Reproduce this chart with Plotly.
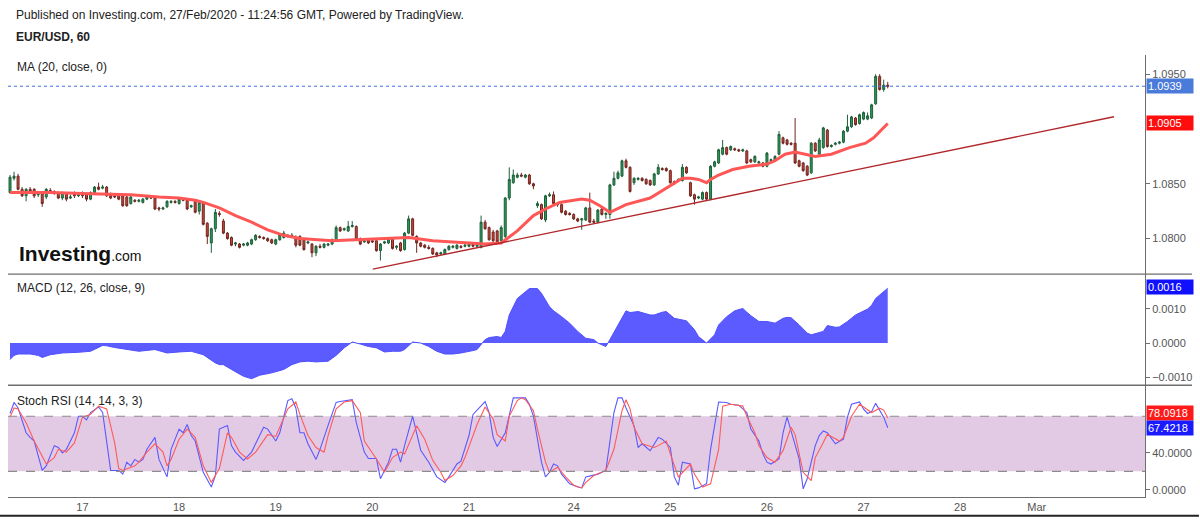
import plotly.graph_objects as go

# ---------------- data (hourly bars, index 0..218) ----------------
opens = [
    1.0842, 1.0855, 1.0857, 1.0845, 1.0839, 1.0845, 1.0845, 1.0840, 1.0841, 1.0838,
    1.0844, 1.0843, 1.0842, 1.0837, 1.0841, 1.0837, 1.0842, 1.0839, 1.0842, 1.0841,
    1.0836, 1.0842, 1.0847, 1.0846, 1.0847, 1.0840, 1.0839, 1.0840, 1.0839, 1.0838,
    1.0832, 1.0835, 1.0834, 1.0833, 1.0836, 1.0838, 1.0837, 1.0828, 1.0827, 1.0829,
    1.0833, 1.0834, 1.0832, 1.0836, 1.0835, 1.0829, 1.0834, 1.0825, 1.0833, 1.0814,
    1.0796, 1.0809, 1.0823, 1.0816, 1.0805, 1.0801, 1.0795, 1.0795, 1.0794, 1.0794,
    1.0795, 1.0799, 1.0802, 1.0801, 1.0800, 1.0799, 1.0795, 1.0799, 1.0801, 1.0803,
    1.0802, 1.0801, 1.0802, 1.0799, 1.0796, 1.0795, 1.0787, 1.0793, 1.0792, 1.0794,
    1.0795, 1.0798, 1.0810, 1.0808, 1.0807, 1.0811, 1.0811, 1.0800, 1.0797, 1.0799,
    1.0798, 1.0798, 1.0789, 1.0796, 1.0796, 1.0800, 1.0792, 1.0796, 1.0790, 1.0805,
    1.0818, 1.0802, 1.0796, 1.0794, 1.0792, 1.0791, 1.0787, 1.0786, 1.0786, 1.0790,
    1.0792, 1.0791, 1.0793, 1.0793, 1.0793, 1.0795, 1.0793, 1.0792, 1.0815, 1.0810,
    1.0806, 1.0807, 1.0798, 1.0802, 1.0837, 1.0851, 1.0856, 1.0858, 1.0856, 1.0858,
    1.0850, 1.0830, 1.0831, 1.0817, 1.0839, 1.0840, 1.0832, 1.0831, 1.0825, 1.0823,
    1.0822, 1.0818, 1.0817, 1.0817, 1.0828, 1.0816, 1.0815, 1.0827, 1.0822, 1.0822,
    1.0849, 1.0855, 1.0857, 1.0871, 1.0865, 1.0851, 1.0854, 1.0855, 1.0854, 1.0853,
    1.0849, 1.0859, 1.0864, 1.0864, 1.0862, 1.0852, 1.0853, 1.0853, 1.0865, 1.0851,
    1.0840, 1.0837, 1.0836, 1.0842, 1.0836, 1.0866, 1.0869, 1.0877, 1.0883, 1.0881,
    1.0882, 1.0881, 1.0880, 1.0880, 1.0872, 1.0870, 1.0869, 1.0869, 1.0866, 1.0871,
    1.0871, 1.0877, 1.0892, 1.0890, 1.0887, 1.0887, 1.0871, 1.0869, 1.0866, 1.0860,
    1.0887, 1.0877, 1.0883, 1.0899, 1.0884, 1.0886, 1.0887, 1.0888, 1.0898, 1.0902,
    1.0910, 1.0905, 1.0909, 1.0909, 1.0910, 1.0923, 1.0948, 1.0936, 1.0940,
]
highs = [
    1.0858, 1.0861, 1.0859, 1.0847, 1.0846, 1.0847, 1.0846, 1.0843, 1.0842, 1.0846,
    1.0846, 1.0844, 1.0843, 1.0843, 1.0842, 1.0840, 1.0843, 1.0842, 1.0843, 1.0842,
    1.0843, 1.0848, 1.0851, 1.0849, 1.0848, 1.0842, 1.0840, 1.0841, 1.0840, 1.0839,
    1.0839, 1.0836, 1.0836, 1.0837, 1.0839, 1.0839, 1.0838, 1.0829, 1.0829, 1.0835,
    1.0835, 1.0835, 1.0837, 1.0837, 1.0836, 1.0831, 1.0836, 1.0834, 1.0834, 1.0815,
    1.0810, 1.0827, 1.0825, 1.0818, 1.0806, 1.0802, 1.0797, 1.0796, 1.0796, 1.0797,
    1.0800, 1.0804, 1.0803, 1.0802, 1.0801, 1.0800, 1.0800, 1.0805, 1.0807, 1.0804,
    1.0805, 1.0803, 1.0803, 1.0800, 1.0798, 1.0796, 1.0794, 1.0795, 1.0796, 1.0796,
    1.0800, 1.0812, 1.0811, 1.0810, 1.0816, 1.0816, 1.0812, 1.0801, 1.0799, 1.0800,
    1.0800, 1.0799, 1.0796, 1.0798, 1.0801, 1.0801, 1.0794, 1.0797, 1.0806, 1.0821,
    1.0819, 1.0803, 1.0797, 1.0795, 1.0794, 1.0792, 1.0788, 1.0788, 1.0791, 1.0794,
    1.0794, 1.0795, 1.0794, 1.0795, 1.0797, 1.0796, 1.0795, 1.0821, 1.0817, 1.0811,
    1.0808, 1.0808, 1.0812, 1.0838, 1.0865, 1.0863, 1.0860, 1.0860, 1.0859, 1.0859,
    1.0851, 1.0834, 1.0832, 1.0840, 1.0842, 1.0843, 1.0833, 1.0832, 1.0826, 1.0824,
    1.0823, 1.0819, 1.0819, 1.0829, 1.0842, 1.0818, 1.0827, 1.0828, 1.0824, 1.0850,
    1.0861, 1.0862, 1.0872, 1.0873, 1.0866, 1.0856, 1.0856, 1.0856, 1.0855, 1.0854,
    1.0860, 1.0868, 1.0865, 1.0865, 1.0863, 1.0853, 1.0855, 1.0868, 1.0866, 1.0852,
    1.0841, 1.0839, 1.0843, 1.0843, 1.0867, 1.0871, 1.0882, 1.0890, 1.0884, 1.0885,
    1.0883, 1.0882, 1.0882, 1.0881, 1.0873, 1.0876, 1.0871, 1.0870, 1.0879, 1.0873,
    1.0876, 1.0898, 1.0893, 1.0891, 1.0888, 1.0910, 1.0872, 1.0870, 1.0867, 1.0888,
    1.0888, 1.0892, 1.0902, 1.0900, 1.0886, 1.0888, 1.0889, 1.0899, 1.0913, 1.0912,
    1.0911, 1.0914, 1.0916, 1.0915, 1.0923, 1.0950, 1.0950, 1.0945, 1.0943,
]
lows = [
    1.0841, 1.0853, 1.0844, 1.0838, 1.0834, 1.0841, 1.0837, 1.0838, 1.0829, 1.0836,
    1.0841, 1.0840, 1.0836, 1.0835, 1.0834, 1.0836, 1.0837, 1.0838, 1.0837, 1.0834,
    1.0835, 1.0840, 1.0844, 1.0845, 1.0838, 1.0836, 1.0837, 1.0835, 1.0829, 1.0829,
    1.0831, 1.0833, 1.0833, 1.0832, 1.0835, 1.0836, 1.0826, 1.0825, 1.0826, 1.0828,
    1.0832, 1.0832, 1.0831, 1.0834, 1.0826, 1.0828, 1.0823, 1.0822, 1.0812, 1.0795,
    1.0787, 1.0806, 1.0820, 1.0804, 1.0799, 1.0793, 1.0793, 1.0791, 1.0793, 1.0793,
    1.0794, 1.0798, 1.0800, 1.0799, 1.0797, 1.0795, 1.0794, 1.0798, 1.0800, 1.0801,
    1.0801, 1.0792, 1.0793, 1.0789, 1.0795, 1.0783, 1.0784, 1.0791, 1.0791, 1.0793,
    1.0794, 1.0797, 1.0806, 1.0807, 1.0806, 1.0810, 1.0798, 1.0794, 1.0796, 1.0795,
    1.0796, 1.0788, 1.0780, 1.0795, 1.0795, 1.0790, 1.0790, 1.0788, 1.0789, 1.0804,
    1.0802, 1.0787, 1.0792, 1.0791, 1.0790, 1.0785, 1.0783, 1.0785, 1.0785, 1.0789,
    1.0791, 1.0790, 1.0791, 1.0792, 1.0792, 1.0792, 1.0792, 1.0791, 1.0808, 1.0798,
    1.0797, 1.0796, 1.0797, 1.0800, 1.0835, 1.0850, 1.0855, 1.0856, 1.0855, 1.0849,
    1.0845, 1.0828, 1.0817, 1.0815, 1.0838, 1.0831, 1.0829, 1.0823, 1.0821, 1.0821,
    1.0817, 1.0815, 1.0808, 1.0816, 1.0814, 1.0814, 1.0814, 1.0821, 1.0818, 1.0818,
    1.0848, 1.0854, 1.0856, 1.0864, 1.0842, 1.0849, 1.0853, 1.0852, 1.0849, 1.0848,
    1.0848, 1.0858, 1.0862, 1.0861, 1.0850, 1.0849, 1.0852, 1.0852, 1.0859, 1.0838,
    1.0831, 1.0836, 1.0835, 1.0835, 1.0835, 1.0865, 1.0868, 1.0876, 1.0876, 1.0880,
    1.0880, 1.0879, 1.0879, 1.0868, 1.0869, 1.0869, 1.0867, 1.0865, 1.0865, 1.0870,
    1.0870, 1.0876, 1.0886, 1.0885, 1.0885, 1.0868, 1.0865, 1.0861, 1.0857, 1.0859,
    1.0879, 1.0876, 1.0882, 1.0883, 1.0883, 1.0885, 1.0886, 1.0887, 1.0897, 1.0901,
    1.0903, 1.0904, 1.0908, 1.0908, 1.0909, 1.0922, 1.0935, 1.0934, 1.0937,
]
closes = [
    1.0856, 1.0857, 1.0845, 1.0839, 1.0845, 1.0843, 1.0839, 1.0841, 1.0832, 1.0845,
    1.0843, 1.0842, 1.0837, 1.0842, 1.0836, 1.0838, 1.0839, 1.0840, 1.0839, 1.0836,
    1.0842, 1.0847, 1.0845, 1.0847, 1.0839, 1.0837, 1.0838, 1.0836, 1.0830, 1.0830,
    1.0838, 1.0834, 1.0835, 1.0836, 1.0838, 1.0837, 1.0827, 1.0827, 1.0828, 1.0834,
    1.0834, 1.0833, 1.0836, 1.0835, 1.0827, 1.0830, 1.0824, 1.0833, 1.0813, 1.0802,
    1.0809, 1.0824, 1.0822, 1.0805, 1.0800, 1.0794, 1.0796, 1.0792, 1.0795, 1.0796,
    1.0799, 1.0803, 1.0801, 1.0800, 1.0798, 1.0796, 1.0799, 1.0804, 1.0805, 1.0802,
    1.0803, 1.0794, 1.0794, 1.0790, 1.0797, 1.0787, 1.0793, 1.0792, 1.0795, 1.0795,
    1.0799, 1.0810, 1.0807, 1.0809, 1.0811, 1.0812, 1.0799, 1.0795, 1.0798, 1.0796,
    1.0797, 1.0789, 1.0795, 1.0797, 1.0800, 1.0791, 1.0793, 1.0789, 1.0805, 1.0818,
    1.0803, 1.0796, 1.0793, 1.0792, 1.0791, 1.0786, 1.0785, 1.0787, 1.0790, 1.0793,
    1.0793, 1.0794, 1.0792, 1.0794, 1.0795, 1.0793, 1.0794, 1.0815, 1.0809, 1.0799,
    1.0798, 1.0797, 1.0810, 1.0837, 1.0854, 1.0858, 1.0858, 1.0857, 1.0858, 1.0850,
    1.0848, 1.0832, 1.0818, 1.0839, 1.0840, 1.0832, 1.0831, 1.0824, 1.0822, 1.0822,
    1.0818, 1.0816, 1.0818, 1.0828, 1.0815, 1.0815, 1.0826, 1.0822, 1.0823, 1.0849,
    1.0855, 1.0860, 1.0871, 1.0865, 1.0843, 1.0855, 1.0855, 1.0853, 1.0850, 1.0849,
    1.0859, 1.0865, 1.0863, 1.0862, 1.0851, 1.0851, 1.0854, 1.0865, 1.0860, 1.0839,
    1.0836, 1.0838, 1.0842, 1.0836, 1.0866, 1.0870, 1.0881, 1.0883, 1.0877, 1.0884,
    1.0881, 1.0880, 1.0881, 1.0869, 1.0870, 1.0875, 1.0870, 1.0866, 1.0878, 1.0872,
    1.0875, 1.0895, 1.0887, 1.0886, 1.0886, 1.0869, 1.0866, 1.0862, 1.0858, 1.0887,
    1.0880, 1.0890, 1.0901, 1.0884, 1.0885, 1.0887, 1.0888, 1.0898, 1.0902, 1.0911,
    1.0904, 1.0913, 1.0915, 1.0912, 1.0922, 1.0948, 1.0936, 1.0940, 1.0939,
]
bars = list(range(len(closes)))

# MA(20)
ma_bars = [0, 10, 20, 30, 37, 42, 46, 48, 52, 56, 60, 64, 68, 72, 80, 88, 95, 99, 105,
           113, 118, 122, 126, 130, 133, 136.5, 142, 144, 146.5, 149, 153, 159, 163, 167,
           169, 171, 173, 174, 176, 179.5, 183.5, 188, 190, 192.5, 195, 197.5, 200, 204,
           208.5, 212.5, 214.5, 218]
ma_vals = [1.0842, 1.0842, 1.0841, 1.0840, 1.0838, 1.0837, 1.0835, 1.0833, 1.0828, 1.0821,
           1.0815, 1.0808, 1.0803, 1.0800, 1.0798, 1.0799, 1.0800, 1.0801, 1.0798,
           1.0796, 1.0795, 1.0796, 1.0807, 1.0821, 1.0827, 1.0833, 1.0836, 1.0835, 1.0830,
           1.0824, 1.0831, 1.0837, 1.0846, 1.0855, 1.0855, 1.0854, 1.0851, 1.0854, 1.0858,
           1.0863, 1.0866, 1.0868, 1.0871, 1.0877, 1.0879, 1.0877, 1.0875, 1.0877, 1.0883,
           1.0887, 1.0892, 1.0905]

# MACD (12, 26, close, 9)
macd_bars = [0, 1, 2, 5, 7, 8, 10, 13, 17, 20, 23, 24, 26, 28, 30, 32, 36, 39, 42, 45,
             48, 51, 52, 53, 55, 58, 60, 62, 65, 68, 70, 72, 74, 76, 79, 81, 83, 85, 87,
             89, 91, 93, 95, 97, 98, 100, 102, 104, 106, 108, 110, 112, 115, 116, 118,
             119, 121, 122, 123, 124, 126, 129, 131, 132, 134, 135, 137, 139, 141, 143,
             145, 146, 147, 148, 149, 151, 153, 154, 156, 159, 160, 162, 163, 165, 167,
             168, 170, 171, 173, 175, 176, 178, 180, 182, 183, 184, 186, 188, 190, 192,
             193, 194, 196, 198, 199, 201, 202, 203, 205, 206, 208, 210, 212, 213, 214,
             215, 216, 217, 218]
macd_vals = [-0.00048, -0.00036, -0.00032, -0.00032, -0.00036, -0.00042, -0.00034, -0.00029,
             -0.00027, -0.00024, -0.00007, -0.00008, -0.00013, -0.00017, -0.00019, -0.00024,
             -0.00019, -0.00029, -0.00026, -0.00024, -0.00034, -0.00058, -0.00063, -0.00063,
             -0.00077, -0.00097, -0.00104, -0.00094, -0.00087, -0.00077, -0.00063, -0.00055,
             -0.00053, -0.00055, -0.00053, -0.00036, -0.00014, 0.00003, -0.00003, -0.00010,
             -0.00014, -0.00026, -0.00024, -0.00024, -0.00019, 0.00003, 0.0, -0.00010,
             -0.00024, -0.00032, -0.00032, -0.00029, -0.00022, -0.00019, 0.00010, 0.00016,
             0.00019, 0.00016, 0.00034, 0.00082, 0.00130, 0.00159, 0.00159, 0.00145,
             0.00106, 0.00094, 0.00077, 0.00058, 0.00034, 0.00014, 0.00010, 0.0, -0.00005,
             -0.00010, 0.00010, 0.00053, 0.00094, 0.00089, 0.00092, 0.00082, 0.00082,
             0.00090, 0.00092, 0.00072, 0.00068, 0.00065, 0.00039, 0.00019, 0.0, 0.00024,
             0.00053, 0.00077, 0.00094, 0.00101, 0.00090, 0.00080, 0.00063, 0.00063,
             0.00058, 0.00072, 0.00075, 0.00074, 0.00053, 0.00029, 0.00024, 0.00032,
             0.00034, 0.00051, 0.00046, 0.00047, 0.00063, 0.00082, 0.00095, 0.00099,
             0.00110, 0.00130, 0.00140, 0.00150, 0.00160]

# Stoch RSI (14, 14, 3, 3): %K (blue) and %D (red)
k_bars = [0, 1, 2, 4, 5, 6, 8, 9, 11, 12, 13, 14, 16, 17, 18, 19, 20, 21, 22, 23, 25, 27,
          28, 29, 30, 31, 32, 33, 34, 36, 37, 39, 40, 42, 43, 44, 45, 46, 48, 50, 51, 52,
          54, 55, 56, 58, 60, 63, 64, 66, 67, 69, 70, 71, 72, 73, 74, 76, 77, 79, 81, 82,
          84, 85, 86, 88, 89, 91, 92, 94, 95, 96, 97, 98, 100, 102, 104, 106, 108, 109,
          111, 112, 114, 115, 118, 119, 120, 121, 123, 124, 125, 127, 128, 129, 130, 131,
          132, 133, 134, 135, 136, 137, 139, 141, 142, 143, 145, 146, 148, 149, 150, 151,
          152, 153, 155, 156, 157, 159, 161, 162, 164, 165, 166, 167, 169, 170, 171, 173,
          174, 176, 178, 179, 181, 183, 184, 186, 187, 188, 189, 191, 192, 193, 194, 196,
          197, 198, 200, 201, 202, 203, 205, 207, 208, 209, 211, 212, 213, 214, 215, 216,
          217, 218]
k_vals = [83, 95, 89, 62, 57, 53, 21, 26, 48, 46, 40, 44, 62, 80, 80, 76, 84, 87, 90, 84,
          21, 21, 17, 30, 26, 33, 30, 33, 44, 57, 33, 14, 44, 66, 62, 71, 59, 53, 19, 3,
          15, 66, 70, 48, 41, 32, 41, 68, 66, 53, 62, 97, 99, 89, 62, 62, 50, 33, 44, 70,
          95, 96, 97, 98, 73, 41, 34, 34, 12, 30, 44, 44, 30, 48, 80, 43, 30, 14, 8, 14,
          28, 31, 59, 82, 96, 84, 57, 47, 62, 82, 100, 100, 100, 93, 80, 55, 30, 14, 19,
          28, 26, 17, 6.5, 3, 2, 14, 15.5, 17, 21, 50, 84, 100, 100, 89, 69.5, 46, 50,
          42.5, 57, 55, 46, 14, 5, 30, 28, 1, 2, 6.5, 44, 95.5, 95, 93, 92, 84, 66, 53,
          39, 30, 28, 33.5, 62, 79, 64, 33.5, 1, 12, 48, 59, 64, 62, 50, 55, 79, 93, 95.5,
          87.6, 83, 85, 94, 87, 79, 67.4218]
d_bars = [0, 1, 2, 4, 6, 9, 11, 12, 14, 16, 18, 20, 22, 24, 26, 27, 28, 31, 32, 34, 36,
          38, 39, 40, 42, 44, 46, 48, 50, 52, 54, 55, 57, 59, 61, 64, 66, 67, 69, 71, 72,
          74, 76, 78, 79, 81, 83, 85, 87, 88, 91, 93, 95, 97, 98, 101, 103, 105, 107, 108,
          110, 112, 113, 116, 118, 120, 121, 123, 124, 126, 127, 128, 130, 131, 133, 134,
          136, 138, 140, 142, 143, 145, 148, 150, 152, 153, 154, 155, 157, 160, 161, 163,
          164, 166, 167, 169, 170, 172, 174, 176, 177, 179, 182, 183, 185, 186, 188, 190,
          192, 194, 195, 197, 199, 200, 202, 203, 206, 207, 209, 211, 212, 214, 216, 217,
          218]
d_vals = [79, 89, 88, 73, 53, 28, 35, 44, 41, 51, 79, 82, 91, 88, 51, 23, 21, 26, 30, 41,
          50, 41, 26, 33, 55, 66, 57, 26, 8, 23, 62, 57, 41, 33.5, 41, 60, 58, 68, 88,
          95.5, 82, 59, 46, 41, 59, 88, 95.5, 97, 84, 53, 33.5, 19, 35, 41, 39, 69.5, 55,
          32, 19, 10, 15.5, 26, 35, 71, 90, 77, 60, 53, 80, 97, 100, 98, 86, 66, 30, 19,
          24.5, 14, 5, 2, 8, 15.5, 21, 44, 86, 98, 88, 68, 50, 46, 48, 53, 39, 14, 19, 28,
          17, 3, 6.5, 44, 91, 93, 91, 80, 62, 48, 35, 30, 42.5, 68, 60, 19, 10, 35, 51.5,
          60.5, 53, 57, 80, 93, 90, 84, 88.7, 86.7, 78.0918]

# hand-drawn trend line (bar, price)
trend_bars = [90.1, 274.2]
trend_vals = [1.07721, 1.09112]

# x-axis day labels (bar index of each day start)
day_bars = [18, 42, 66, 90, 114, 140, 164, 188, 212, 236, 255]
day_labels = ["17", "18", "19", "20", "21", "24", "25", "26", "27", "28", "Mar"]

# price-axis tick values (1.0900 is hidden under the MA value tag)
price_ticks = [1.08, 1.085, 1.095]
macd_ticks = [-0.001, 0, 0.001]
stoch_ticks = [0, 40]

last_close, last_ma, last_macd, last_d, last_k = 1.0939, 1.0905, 0.0016, 78.0918, 67.4218

# ---------------- figure ----------------
FONT = "Liberation Sans, Arial, sans-serif"
W, H = 1200, 521
ML, MR, MT, MB = 8, 54, 55, 21
PW, PH = W - ML - MR, H - MT - MB


def px_x(px):
    return (px - ML) / PW


def px_y(py):
    return (H - MB - py) / PH


fig = go.Figure()

fig.add_trace(go.Candlestick(
    x=bars, open=opens, high=highs, low=lows, close=closes,
    increasing=dict(fillcolor="#2a9a58", line=dict(color="#1f5f3b", width=1)),
    decreasing=dict(fillcolor="#c8453a", line=dict(color="#6e2720", width=1)),
    whiskerwidth=0, xaxis="x", yaxis="y", showlegend=False, hoverinfo="skip"))

fig.add_trace(go.Scatter(x=ma_bars, y=ma_vals, mode="lines",
                         line=dict(color="#ff5656", width=3), xaxis="x", yaxis="y",
                         showlegend=False, hoverinfo="skip"))
fig.add_trace(go.Scatter(x=trend_bars, y=trend_vals, mode="lines",
                         line=dict(color="#b2262a", width=1.4), xaxis="x", yaxis="y",
                         showlegend=False, hoverinfo="skip"))

fig.add_trace(go.Scatter(x=macd_bars, y=macd_vals, mode="lines", fill="tozeroy",
                         fillcolor="#5b5bff", line=dict(color="#5050ff", width=1),
                         xaxis="x", yaxis="y2", showlegend=False, hoverinfo="skip"))

fig.add_trace(go.Scatter(x=k_bars, y=k_vals, mode="lines",
                         line=dict(color="#5a5aff", width=1.1), xaxis="x", yaxis="y3",
                         showlegend=False, hoverinfo="skip"))
fig.add_trace(go.Scatter(x=d_bars, y=d_vals, mode="lines",
                         line=dict(color="#ff5a5a", width=1.1), xaxis="x", yaxis="y3",
                         showlegend=False, hoverinfo="skip"))

yax_common = dict(side="right", anchor="x", showgrid=False, zeroline=False,
                  showline=True, linecolor="#6e6e6e", linewidth=1,
                  ticks="outside", ticklen=4, tickcolor="#6e6e6e",
                  tickfont=dict(family=FONT, size=11, color="#555555"),
                  tickformat=".4f", fixedrange=True)

fig.update_layout(
    width=W, height=H,
    margin=dict(l=ML, r=MR, t=MT, b=MB),
    paper_bgcolor="white", plot_bgcolor="white",
    hovermode=False,
    font=dict(family=FONT, size=12, color="#222222"),
    xaxis=dict(domain=[0, 1], anchor="y3", range=[-0.5, 281.9],
               tickmode="array", tickvals=day_bars, ticktext=day_labels,
               showgrid=False, zeroline=False, showline=True, linecolor="#6e6e6e",
               ticks="", tickfont=dict(family=FONT, size=11, color="#555555"),
               rangeslider=dict(visible=False), fixedrange=True),
    yaxis=dict(domain=[px_y(275.7), 1], range=[1.07675, 1.09675],
               tickmode="array", tickvals=price_ticks, **yax_common),
    yaxis2=dict(domain=[px_y(387.5), px_y(275.7)], range=[-0.001232, 0.002009],
                tickmode="array", tickvals=macd_ticks, **yax_common),
    yaxis3=dict(domain=[0, px_y(387.5)], range=[-7.9, 113.7],
                tickmode="array", tickvals=stoch_ticks, **yax_common),
)

shapes = [
    # stoch band
    dict(type="rect", xref="paper", yref="y3", x0=0, x1=1, y0=20, y1=80,
         fillcolor="#e3cae4", line=dict(width=0), layer="below"),
    dict(type="line", xref="paper", yref="y3", x0=0, x1=1, y0=80, y1=80,
         line=dict(color="#8c8c8c", width=1.2, dash="dash")),
    dict(type="line", xref="paper", yref="y3", x0=0, x1=1, y0=20, y1=20,
         line=dict(color="#8c8c8c", width=1.2, dash="dash")),
    # last price dotted line
    dict(type="line", xref="paper", yref="y", x0=0, x1=1, y0=last_close, y1=last_close,
         line=dict(color="#3f6fe6", width=1, dash="dot")),
    # pane separators
    dict(type="line", xref="paper", yref="paper", x0=0, x1=px_x(1193),
         y0=px_y(275.7), y1=px_y(275.7), line=dict(color="#6e6e6e", width=1.3)),
    dict(type="line", xref="paper", yref="paper", x0=0, x1=px_x(1193),
         y0=px_y(387.5), y1=px_y(387.5), line=dict(color="#6e6e6e", width=1.3)),
    # bottom frame line
    dict(type="line", xref="paper", yref="paper", x0=px_x(0), x1=px_x(1200),
         y0=px_y(519), y1=px_y(519), line=dict(color="#222222", width=2)),
]
fig.update_layout(shapes=shapes)

ann = []


def text(px, py, s, size=12, color="#222222"):
    ann.append(dict(xref="paper", yref="paper", x=px_x(px), y=px_y(py), text=s,
                    showarrow=False, xanchor="left", yanchor="middle",
                    font=dict(family=FONT, size=size, color=color)))


text(14, 15, "Published on Investing.com, 27/Feb/2020 - 11:24:56 GMT, Powered by TradingView.")
text(14, 37, "<b>EUR/USD, 60</b>")
text(15, 67, "MA (20, close, 0)")
text(15, 290, "MACD (12, 26, close, 9)")
text(15, 403, "Stoch RSI (14, 14, 3, 3)")
ann.append(dict(xref="paper", yref="paper", x=px_x(17), y=px_y(255),
                text="<b>Investing</b><span style='font-size:14px'>.com</span>",
                showarrow=False, xanchor="left", yanchor="middle",
                font=dict(family=FONT, size=21, color="#111111")))


def tag(yref, yv, s, bg):
    ann.append(dict(xref="paper", yref=yref, x=px_x(1147), y=yv, text=s,
                    showarrow=False, xanchor="left", yanchor="middle",
                    bgcolor=bg, borderpad=1, width=44, align="left",
                    font=dict(family=FONT, size=11, color="white")))


tag("y", 1.09395, f"{last_close:.4f}", "#4a7ada")
tag("y", 1.09055, f"{last_ma:.4f}", "#ff0c0c")
tag("y2", 0.00165, f"{last_macd:.4f}", "#1010ff")
tag("y3", 83.2, f"{last_d:.4f}", "#ff1a1a")
tag("y3", 67.5, f"{last_k:.4f}", "#1a1aff")

fig.update_layout(annotations=ann)

fig.write_html("out.html")
